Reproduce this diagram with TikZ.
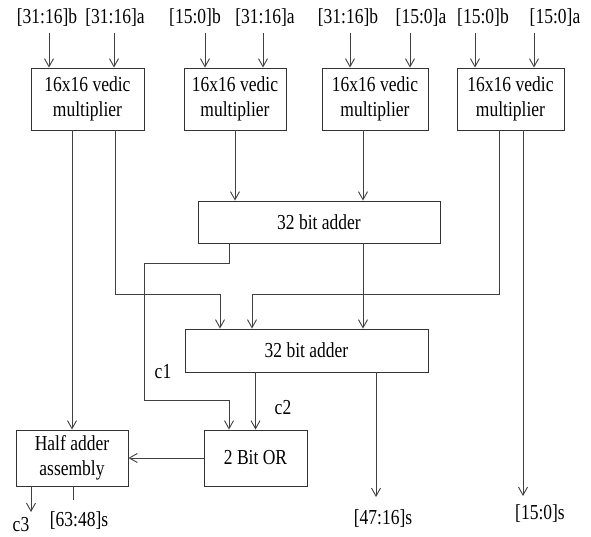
\documentclass[tikz,border=0pt]{standalone}
\usepackage{graphicx}
\usepackage{fontspec}
\setmainfont{Liberation Serif}
\usetikzlibrary{arrows.meta}
% text is set slightly tall and narrow
\newcommand\tall[1]{\scalebox{1}[1.22]{#1}}
\begin{document}
\begin{tikzpicture}[x=1pt,y=-1pt,
  blk/.style={draw=black!80, line width=0.9pt, fill=white, align=center,
    inner sep=0pt, font=\fontsize{17.5}{25}\selectfont},
  lbl/.style={inner sep=0pt, font=\fontsize{17.5}{20}\selectfont},
  wire/.style={draw=black!75, line width=0.9pt},
  arr/.style={wire, -{Straight Barb[length=8pt,width=9pt,line width=0.9pt]}}]
\useasboundingbox (0,0) rectangle (591,537);

% multipliers
\node[blk, minimum width=113, minimum height=62] (m1) at (87.5,99) {\tall{16x16 vedic}\\\tall{multiplier}};
\node[blk, minimum width=102, minimum height=62] (m2) at (235,99) {\tall{16x16 vedic}\\\tall{multiplier}};
\node[blk, minimum width=106, minimum height=62] (m3) at (375,99) {\tall{16x16 vedic}\\\tall{multiplier}};
\node[blk, minimum width=107, minimum height=62] (m4) at (510.5,99) {\tall{16x16 vedic}\\\tall{multiplier}};

% adders, OR, half adder
\node[blk, minimum width=242, minimum height=42] (a1) at (319,222) {\tall{32 bit adder}};
\node[blk, minimum width=243, minimum height=43] (a2) at (306.5,350.5) {\tall{32 bit adder}};
\node[blk, minimum width=103, minimum height=56] (or) at (255.5,458) {\tall{2 Bit OR}};
\node[blk, minimum width=112, minimum height=56] (ha) at (72,458) {\tall{Half adder}\\\tall{assembly}};

% input labels
\node[lbl] (t1) at (47,18) {\tall{[31:16]b}};
\node[lbl] (t2) at (115,18) {\tall{[31:16]a}};
\node[lbl] (t3) at (195,18) {\tall{[15:0]b}};
\node[lbl] (t4) at (265,18) {\tall{[31:16]a}};
\node[lbl] (t5) at (348,18) {\tall{[31:16]b}};
\node[lbl] (t6) at (421,18) {\tall{[15:0]a}};
\node[lbl] (t7) at (483,18) {\tall{[15:0]b}};
\node[lbl] (t8) at (555,18) {\tall{[15:0]a}};

% input arrows
\coordinate (i1) at (49,33);
\coordinate (i2) at (114,33);
\coordinate (i3) at (205,33);
\coordinate (i4) at (263,33);
\coordinate (i5) at (350,33);
\coordinate (i6) at (410,33);
\coordinate (i7) at (475,33);
\coordinate (i8) at (534,33);
\draw[arr] (i1) -- (i1 |- m1.north);
\draw[arr] (i2) -- (i2 |- m1.north);
\draw[arr] (i3) -- (i3 |- m2.north);
\draw[arr] (i4) -- (i4 |- m2.north);
\draw[arr] (i5) -- (i5 |- m3.north);
\draw[arr] (i6) -- (i6 |- m3.north);
\draw[arr] (i7) -- (i7 |- m4.north);
\draw[arr] (i8) -- (i8 |- m4.north);

% middle products into first adder
\draw[arr] (m2.south) -- (m2.south |- a1.north);
\draw[arr] ([xshift=-12]m3.south) -- ([xshift=-12]m3.south |- a1.north);

% carry c1 from first adder to OR
\coordinate (k1) at (144,400);
\draw[arr] ([xshift=-90]a1.south) -- ++(0,20) -| (k1) -| ([xshift=-26.5]or.north);

% high part of m1 and m4 into second adder
\coordinate (k2) at (220,294);
\coordinate (k3) at (252,294);
\draw[arr] ([xshift=27.5]m1.south) |- (k2) -- (k2 |- a2.north);
\draw[arr] ([xshift=-11.5]m4.south) |- (k3) -- (k3 |- a2.north);
\draw[arr] ([xshift=44]a1.south) -- ([xshift=44]a1.south |- a2.north);

% carry c2
\draw[arr] (a2.south -| or.north) -- (or.north);
\node[lbl] (c1) at (163,372) {\tall{c1}};
\node[lbl] (c2) at (283,408) {\tall{c2}};

% m1 low part into half adder, OR into half adder
\draw[arr] (m1.south -| ha.north) -- (ha.north);
\draw[arr] (or.west) -- (ha.east);

% outputs
\coordinate (o0) at (31,512);
\coordinate (o1) at (73,500);
\coordinate (o2) at (376,497);
\coordinate (o3) at (523,496);
\draw[arr] (ha.south -| o0) -- (o0);
\draw[wire] (ha.south -| o1) -- (o1);
\draw[arr] (a2.south -| o2) -- (o2);
\draw[arr] (m4.south -| o3) -- (o3);
\node[lbl] (s0) at (21,525) {\tall{c3}};
\node[lbl] (s1) at (79,521) {\tall{[63:48]s}};
\node[lbl] (s2) at (383,519) {\tall{[47:16]s}};
\node[lbl] (s3) at (540,514) {\tall{[15:0]s}};
\end{tikzpicture}
\end{document}
